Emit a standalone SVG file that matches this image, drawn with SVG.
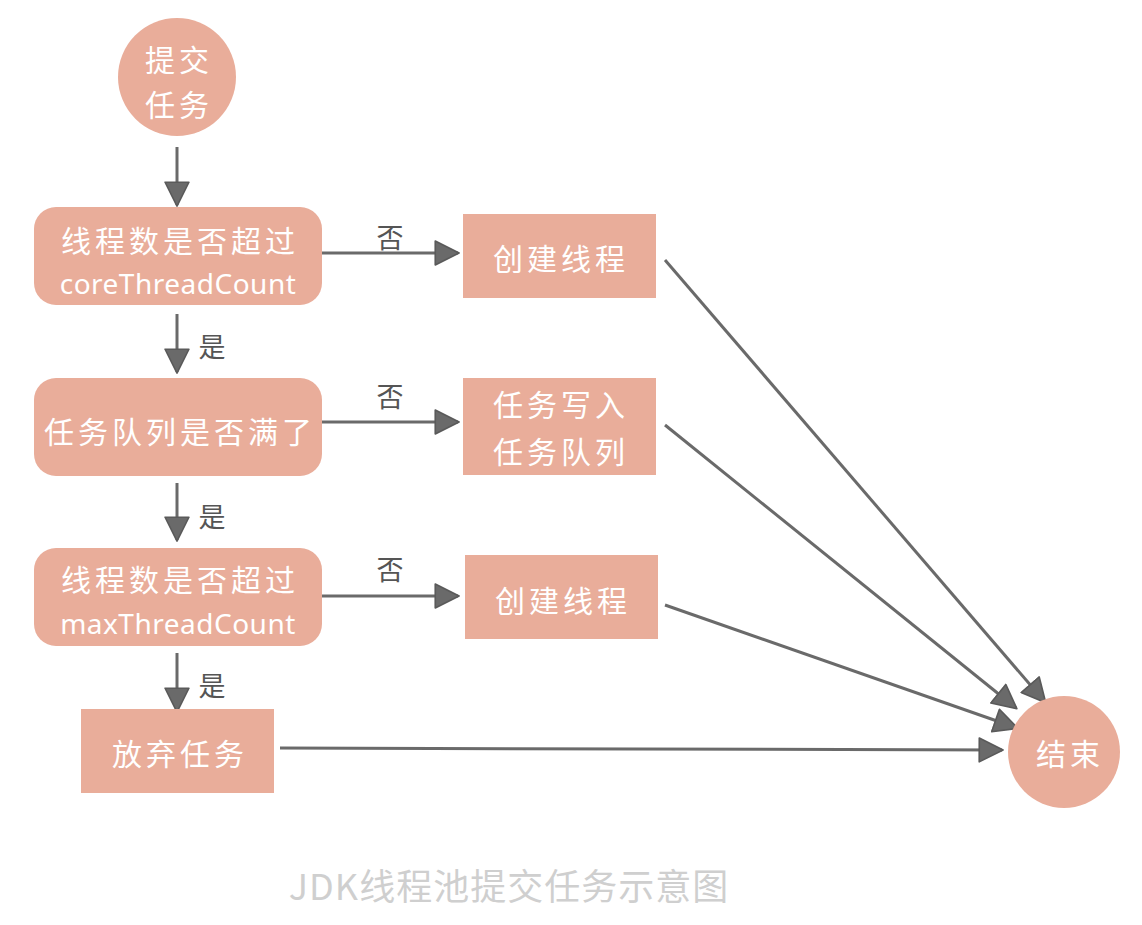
<svg xmlns="http://www.w3.org/2000/svg" width="1142" height="925" viewBox="0 0 1142 925">
<defs>
<marker id="ah" markerUnits="userSpaceOnUse" markerWidth="26" markerHeight="26" viewBox="0 0 24 24" refX="22" refY="12" orient="auto">
<path d="M1,1 L23,12 L1,23 Z" fill="#6a6a6a" stroke="#5a5a5a" stroke-width="1.5" stroke-linejoin="round"/>
</marker>
</defs>
<style>
.n{fill:#E9AD9A;}
.t{fill:#fff;font-family:"Noto Sans CJK SC","Noto Sans",sans-serif;font-size:30px;text-anchor:middle;dominant-baseline:central;letter-spacing:4px;}
.e{fill:#fff;font-family:"Noto Sans","Noto Sans CJK SC",sans-serif;font-size:28px;text-anchor:middle;dominant-baseline:central;letter-spacing:0.5px;}
.l{fill:#555;font-family:"Noto Sans CJK SC",sans-serif;font-size:27px;text-anchor:middle;dominant-baseline:central;}
.c{stroke:#6a6a6a;stroke-width:3;fill:none;marker-end:url(#ah);}
.cap{fill:#cfcfcf;font-family:"Noto Sans CJK SC","Noto Sans",sans-serif;font-size:36px;text-anchor:middle;dominant-baseline:central;letter-spacing:1px;}
</style>
<rect width="1142" height="925" fill="#fff"/>
<g id="connectors">
<line class="c" x1="177" y1="147" x2="177" y2="205"/>
<line class="c" x1="322" y1="253" x2="458" y2="253"/>
<line class="c" x1="177" y1="314" x2="177" y2="372"/>
<line class="c" x1="322" y1="422" x2="458" y2="422"/>
<line class="c" x1="177" y1="483" x2="177" y2="540"/>
<line class="c" x1="322" y1="596" x2="458" y2="596"/>
<line class="c" x1="177" y1="653" x2="177" y2="711"/>
<line class="c" x1="280" y1="748" x2="1002" y2="750"/>
<line class="c" x1="665" y1="260" x2="1045" y2="702"/>
<line class="c" x1="665" y1="425" x2="1016" y2="708"/>
<line class="c" x1="665" y1="605" x2="1017" y2="728"/>
<text class="l" x="390" y="236">否</text>
<text class="l" x="390" y="395">否</text>
<text class="l" x="390" y="568">否</text>
<text class="l" x="212" y="345">是</text>
<text class="l" x="212" y="515">是</text>
<text class="l" x="212" y="684">是</text>
</g>
<g id="start">
<circle class="n" cx="177" cy="77" r="59"/>
<text class="t" x="179" y="58">提交</text>
<text class="t" x="179" y="103">任务</text>
</g>
<g id="check-core">
<rect class="n" x="34" y="207" width="288" height="98" rx="22"/>
<text class="t" x="180" y="239">线程数是否超过</text>
<text class="e" x="178" y="283">coreThreadCount</text>
</g>
<g id="create-thread-1">
<rect class="n" x="463" y="214" width="193" height="84"/>
<text class="t" x="561" y="257">创建线程</text>
</g>
<g id="check-queue">
<rect class="n" x="34" y="378" width="288" height="98" rx="22"/>
<text class="t" x="180" y="430">任务队列是否满了</text>
</g>
<g id="enqueue">
<rect class="n" x="463" y="378" width="193" height="97"/>
<text class="t" x="561" y="403">任务写入</text>
<text class="t" x="561" y="450">任务队列</text>
</g>
<g id="check-max">
<rect class="n" x="34" y="548" width="288" height="98" rx="22"/>
<text class="t" x="180" y="578">线程数是否超过</text>
<text class="e" x="178" y="623">maxThreadCount</text>
</g>
<g id="create-thread-2">
<rect class="n" x="465" y="555" width="193" height="84"/>
<text class="t" x="563" y="599">创建线程</text>
</g>
<g id="reject">
<rect class="n" x="81" y="709" width="193" height="84"/>
<text class="t" x="180" y="752">放弃任务</text>
</g>
<g id="end">
<circle class="n" cx="1064" cy="752" r="56"/>
<text class="t" x="1070" y="752">结束</text>
</g>
<text class="cap" x="509" y="884">JDK线程池提交任务示意图</text>
</svg>
